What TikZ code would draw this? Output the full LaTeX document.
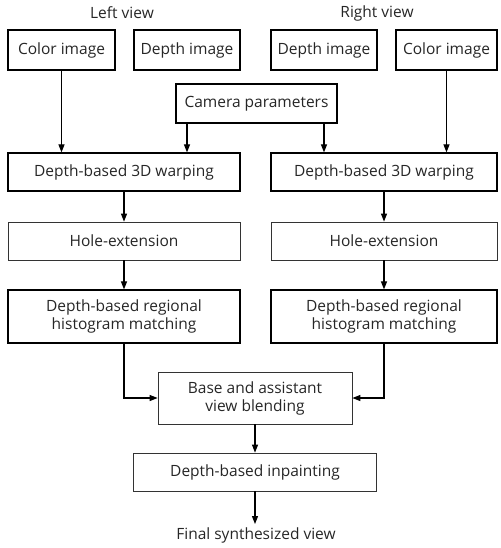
\documentclass[tikz,border=0pt]{standalone}
\usepackage{fontspec}
\setmainfont{Open Sans}
\usepackage{tikz}
\usetikzlibrary{arrows.meta}

\begin{document}
\begin{tikzpicture}[x=1pt,y=1pt]
\tikzstyle{every node}+=[inner sep=0pt, font=\fontsize{15.5}{18}\selectfont, align=center, text=black!85]
\tikzstyle{blk}=[draw=black, line width=1.2pt, minimum height=40pt]
\tikzstyle{thinblk}=[draw=black!80, line width=0.8pt, minimum height=38pt]
\tikzstyle{arr}=[black, line width=1.1pt, -{Triangle[length=8pt,width=6pt]}]
\useasboundingbox (0,0) rectangle (500,-548);
\node (leftlbl) at (122,-13) {Left view};
\node (rightlbl) at (377,-13) {Right view};
\node [blk, minimum width=107pt] (colL) at (61.5,-50) {Color image};
\node [blk, minimum width=106pt] (depL) at (187,-50) {Depth image};
\node [blk, minimum width=106pt] (depR) at (324,-50) {Depth image};
\node [blk, minimum width=101pt] (colR) at (446.5,-50) {Color image};
\node [blk, minimum width=161pt, minimum height=39pt] (cam) at (256.5,-103.5) {Camera parameters};
\node [blk, minimum width=232pt, minimum height=38pt] (warpL) at (124,-172) {Depth-based 3D warping};
\node [blk, minimum width=226pt, minimum height=38pt] (warpR) at (384,-172) {Depth-based 3D warping};
\node [thinblk, minimum width=232pt] (holeL) at (124,-241) {Hole-extension};
\node [thinblk, minimum width=226pt] (holeR) at (384,-241) {Hole-extension};
\node [blk, minimum width=232pt, minimum height=53pt] (histL) at (124,-316.5) {Depth-based regional\\histogram matching};
\node [blk, minimum width=226pt, minimum height=53pt] (histR) at (384,-316.5) {Depth-based regional\\histogram matching};
\node [thinblk, minimum width=194pt, minimum height=52pt] (blend) at (255,-398) {Base and assistant\\view blending};
\node [thinblk, minimum width=243pt] (inpaint) at (255,-472) {Depth-based inpainting};
\node (final) at (256,-535) {Final synthesized view};
% inputs
\draw [arr] (colL.south) -- (colL.south |- warpL.north);
\draw [arr] (colR.south) -- (colR.south |- warpR.north);
\draw [arr] (cam.south -| depL) -- (warpL.north -| depL);
\draw [arr] (cam.south -| depR) -- (warpR.north -| depR);
% each view
\draw [arr] (warpL) -- (holeL);
\draw [arr] (warpR) -- (holeR);
\draw [arr] (holeL) -- (histL);
\draw [arr] (holeR) -- (histR);
\draw [arr] (histL.south) |- (blend.west);
\draw [arr] (histR.south) |- (blend.east);
\draw [arr] (blend) -- (inpaint);
\draw [arr] (inpaint.south) -- ([yshift=3pt]inpaint.south |- final.north);
\end{tikzpicture}
\end{document}
